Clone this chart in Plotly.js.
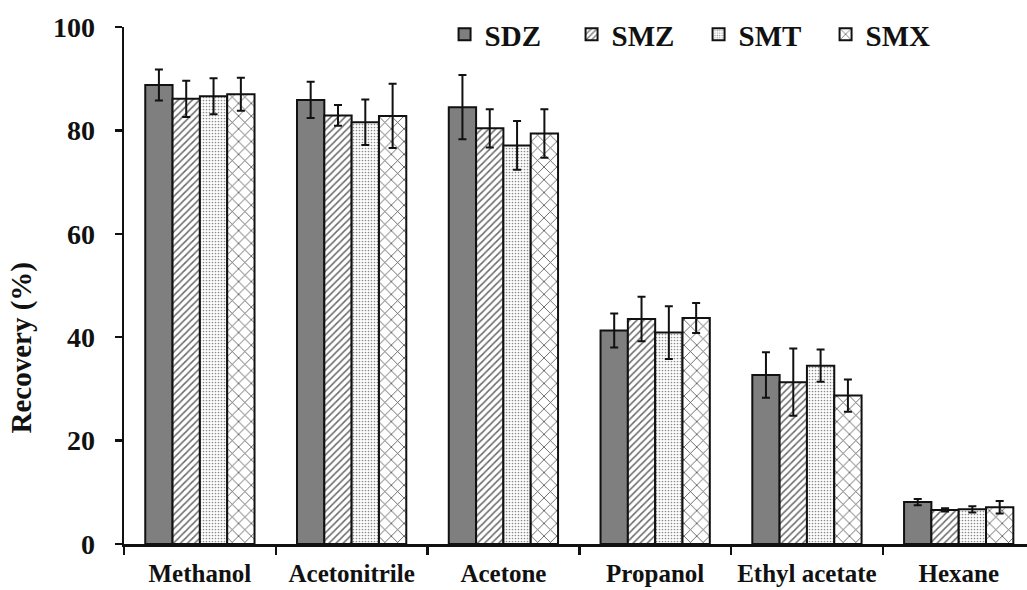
<!DOCTYPE html>
<html>
<head>
<meta charset="utf-8">
<script src="https://cdn.plot.ly/plotly-3.0.1.min.js"></script>
<style>html,body{margin:0;padding:0;background:#fff;}#chart{width:1027px;height:590px;}</style>
</head>
<body>
<div id="chart"></div>
<script>
const categories = ["Methanol", "Acetonitrile", "Acetone", "Propanol", "Ethyl acetate", "Hexane"];
const seriesNames = ["SDZ", "SMZ", "SMT", "SMX"];
const sdz = [88.8, 85.9, 84.5, 41.3, 32.7, 8.1];
const smz = [86.1, 82.9, 80.4, 43.5, 31.3, 6.6];
const smt = [86.6, 81.6, 77.1, 40.9, 34.5, 6.7];
const smx = [87.0, 82.8, 79.4, 43.7, 28.7, 7.1];
const sdzErr = [3.0, 3.5, 6.2, 3.3, 4.4, 0.6];
const smzErr = [3.5, 2.0, 3.7, 4.3, 6.5, 0.3];
const smtErr = [3.5, 4.4, 4.7, 5.1, 3.1, 0.6];
const smxErr = [3.2, 6.2, 4.7, 2.9, 3.1, 1.2];
const yTitle = "Recovery (%)";

const values = [sdz, smz, smt, smx];
const errs = [sdzErr, smzErr, smtErr, smxErr];
const patterns = [
  {shape: ""},
  {shape: "/", fgcolor: "#6a6a6a", bgcolor: "#ffffff", size: 5, solidity: 0.3},
  {shape: ".", fgcolor: "#8c8c8c", bgcolor: "#ffffff", size: 3, solidity: 0.25},
  {shape: "x", fgcolor: "#555555", bgcolor: "#ffffff", size: 9, solidity: 0.18}
];
const fills = ["#7f7f7f", "#ffffff", "#ffffff", "#ffffff"];

const traces = seriesNames.map((name, i) => ({
  type: "bar",
  name: name,
  x: categories,
  y: values[i],
  marker: {
    color: fills[i],
    line: {color: "#111111", width: 2},
    pattern: patterns[i]
  },
  error_y: {type: "data", array: errs[i], visible: true, color: "#111111", thickness: 2, width: 4}
}));

const serif = "Liberation Serif";
const layout = {
  width: 1027, height: 590,
  margin: {l: 124, r: 0, t: 27, b: 46},
  paper_bgcolor: "#ffffff", plot_bgcolor: "#ffffff",
  barmode: "group",
  bargap: 0.28, bargroupgap: 0,
  font: {family: serif, color: "#111111", weight: "bold"},
  xaxis: {
    type: "category",
    range: [-0.5, 5.45],
    showline: true, linecolor: "#111111", linewidth: 2.5,
    ticks: "outside", tickson: "boundaries", ticklen: 8, tickwidth: 2.5, tickcolor: "#111111",
    tickfont: {family: serif, size: 25, color: "#111111", weight: "bold"},
    ticklabelstandoff: 5,
    showgrid: false, zeroline: false
  },
  yaxis: {
    range: [0, 100],
    tickvals: [0, 20, 40, 60, 80, 100],
    showline: true, linecolor: "#111111", linewidth: 2.5,
    ticks: "outside", ticklen: 7, tickwidth: 2.5, tickcolor: "#111111",
    tickfont: {family: serif, size: 28, color: "#111111", weight: "bold"},
    ticklabelstandoff: 14,
    showgrid: false, zeroline: false
  },
  annotations: [{
    text: yTitle, xref: "paper", yref: "paper", x: -0.113, y: 0.38,
    xanchor: "center", yanchor: "middle", textangle: -90, showarrow: false,
    font: {family: serif, size: 29, color: "#111111", weight: "bold"}
  }],
  legend: {
    orientation: "h", x: 0.355, y: 1.035, xanchor: "left", yanchor: "top",
    font: {family: serif, size: 29, color: "#111111", weight: "bold"},
    bgcolor: "rgba(0,0,0,0)", entrywidth: 82, itemwidth: 30,
    traceorder: "normal"
  },
  showlegend: true
};

Plotly.newPlot("chart", traces, layout, {staticPlot: true, displayModeBar: false});
</script>
</body>
</html>
